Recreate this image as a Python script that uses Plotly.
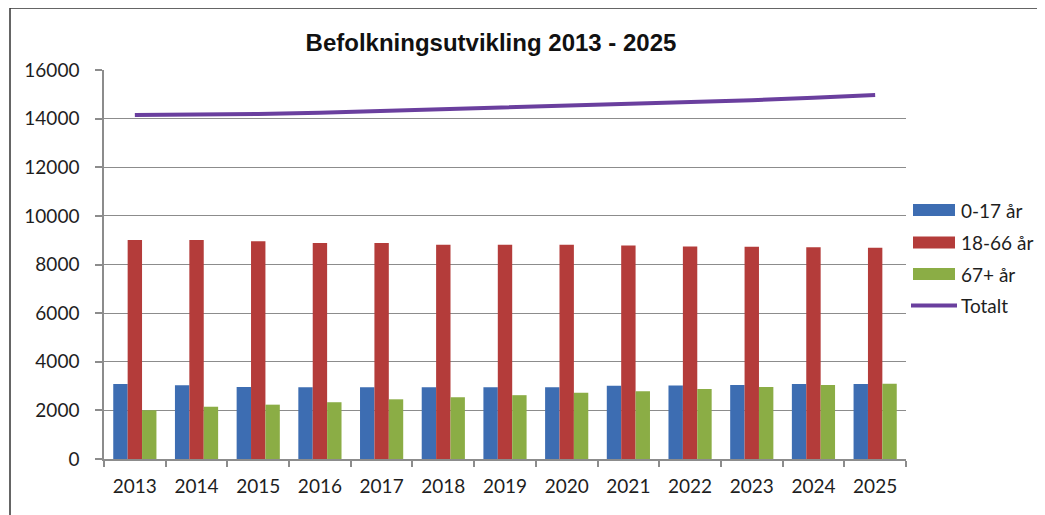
import plotly.graph_objects as go

years = ["2013", "2014", "2015", "2016", "2017", "2018", "2019",
         "2020", "2021", "2022", "2023", "2024", "2025"]
age_0_17 = [3080, 3030, 2960, 2950, 2950, 2950, 2950, 2950, 3010, 3020, 3045, 3080, 3085]
age_18_66 = [9010, 9010, 8960, 8880, 8880, 8810, 8810, 8810, 8780, 8740, 8735, 8710, 8685]
age_67 = [2005, 2150, 2235, 2335, 2455, 2540, 2625, 2730, 2790, 2880, 2960, 3045, 3100]
totalt = [14150, 14160, 14190, 14240, 14310, 14380, 14450, 14520, 14590, 14690, 14760, 14860, 14970]
y_ticks = [0, 2000, 4000, 6000, 8000, 10000, 12000, 14000, 16000]
series_names = ["0-17 år", "18-66 år", "67+ år", "Totalt"]
series_colors = ["#3D6DB2", "#B43C3A", "#8BAD45", "#6A3F9E"]

font_family = "Lato, 'Open Sans', sans-serif"
grid_col = "#8c8c8c"
text_col = "#1e1e1e"

# page offset (body margin) compensation
OFF = 8
W, H = 1045 - OFF, 515 - OFF
L, R, T, B = 104 - OFF, 906 - OFF, 70 - OFF, 459 - OFF
pw, ph = R - L, B - T


def px(x):
    return (x - OFF - L) / pw


def py(y):
    return (B - (y - OFF)) / ph


fig = go.Figure()
for vals, name, col in zip([age_0_17, age_18_66, age_67], series_names[:3], series_colors[:3]):
    fig.add_trace(go.Bar(x=years, y=vals, name=name, showlegend=False,
                         marker=dict(color=col, line=dict(width=0))))
fig.add_trace(go.Scatter(x=years, y=totalt, name=series_names[3], mode="lines", showlegend=False,
                         line=dict(color=series_colors[3], width=4)))

shapes = [dict(type="rect", xref="paper", yref="paper",
               x0=px(10), x1=px(1070), y0=py(540), y1=py(8),
               line=dict(color="#333333", width=1.5), layer="below")]
annotations = []
leg_y = [210, 242.5, 274, 305.5]
for i, (name, col) in enumerate(zip(series_names, series_colors)):
    yc = leg_y[i]
    if i < 3:
        shapes.append(dict(type="rect", xref="paper", yref="paper",
                           x0=px(913), x1=px(955), y0=py(yc + 6), y1=py(yc - 6),
                           fillcolor=col, line=dict(width=0)))
    else:
        shapes.append(dict(type="line", xref="paper", yref="paper",
                           x0=px(911), x1=px(957), y0=py(yc), y1=py(yc),
                           line=dict(color=col, width=4)))
    annotations.append(dict(text=name, xref="paper", yref="paper", x=px(959), y=py(yc),
                            xanchor="left", yanchor="middle", showarrow=False,
                            font=dict(family=font_family, size=19, color=text_col)))

fig.update_layout(
    width=W, height=H,
    margin=dict(l=L, r=W - R, t=T, b=H - B, pad=0),
    paper_bgcolor="white", plot_bgcolor="white",
    barmode="group", bargap=0.3, bargroupgap=0,
    font=dict(family=font_family, size=19, color=text_col),
    title=dict(text="<b>Befolkningsutvikling 2013 - 2025</b>",
               font=dict(family="'Liberation Sans', Arial, sans-serif", size=24, color="#111111"),
               x=px(491), xref="paper", xanchor="center",
               y=1 - (43 - OFF) / H, yref="container", yanchor="middle"),
    showlegend=False,
    xaxis=dict(type="category", showgrid=False, showline=True, linecolor=grid_col, linewidth=1.5,
               ticks="outside", tickson="boundaries", ticklen=6, tickcolor=grid_col, tickwidth=1.5,
               ticklabelstandoff=9,
               tickfont=dict(family=font_family, size=19, color=text_col),
               range=[-0.5, len(years) - 0.5]),
    yaxis=dict(range=[0, 16000], tickvals=y_ticks, ticktext=[str(v) for v in y_ticks],
               showgrid=True, gridcolor=grid_col, gridwidth=1.2,
               showline=True, linecolor=grid_col, linewidth=1.5,
               ticks="outside", ticklen=7, tickcolor=grid_col, tickwidth=1.5,
               ticklabelstandoff=12,
               tickfont=dict(family=font_family, size=19, color=text_col),
               zeroline=False),
    shapes=shapes,
    annotations=annotations,
)

fig.write_html("out.html")
